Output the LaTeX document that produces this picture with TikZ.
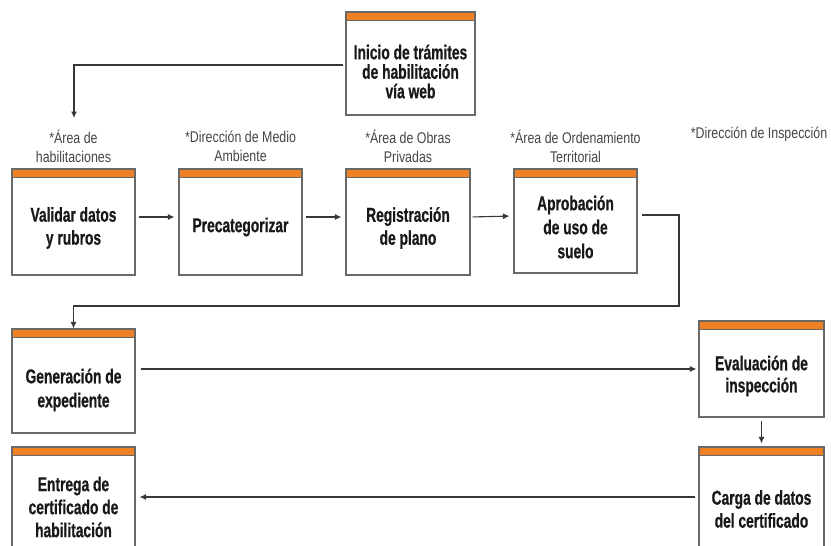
\documentclass[tikz,border=0pt]{standalone}
\usepackage{fontspec}
\usetikzlibrary{arrows.meta,shadows}
\newfontfamily\boxfont[FakeStretch=0.69, BoldFeatures={FakeBold=0.6}]{Liberation Sans}
\newfontfamily\labfont[FakeStretch=0.8]{Liberation Sans}
\definecolor{barorange}{RGB}{240,128,36}
\definecolor{boxline}{RGB}{105,105,105}
\definecolor{labgray}{RGB}{70,70,70}
\definecolor{linegray}{RGB}{55,55,55}
\definecolor{txt}{RGB}{25,25,25}
\tikzset{
  procbox/.style={draw=boxline, line width=1.1pt, fill=white,
    minimum width=123pt, minimum height=104pt, inner sep=0pt,
    drop shadow={shadow xshift=1.2pt, shadow yshift=-1.2pt, fill=black, opacity=0.22},
    path picture={
      \fill[barorange] (path picture bounding box.north west) rectangle ([yshift=-8.5pt]path picture bounding box.north east);
      \draw[boxline, line width=0.9pt] ([yshift=-8.5pt]path picture bounding box.north west) -- ([yshift=-8.5pt]path picture bounding box.north east);
    }},
  boxtext/.style={align=center, text=txt, inner sep=0pt,
    font=\boxfont\bfseries\fontsize{20}{23}\selectfont},
  areatext/.style={align=center, text=labgray, inner sep=0pt,
    font=\labfont\fontsize{15.5}{19}\selectfont},
  flow/.style={draw=linegray, line width=1.1pt, -{Latex[length=6.5pt,width=6pt]}}
}
\begin{document}
\begin{tikzpicture}[x=1pt,y=-1pt]
\useasboundingbox[fill=white] (0,0) rectangle (831,546);

\node[procbox, minimum width=129pt, minimum height=103pt,
  label={[name=tini, boxtext, font=\boxfont\bfseries\fontsize{20}{19.5}\selectfont, yshift=-8pt]center:{Inicio de trámites\\de habilitación\\vía web}}] (ini) at (410.5,63.5) {};

\node[procbox, minimum height=106pt,
  label={[name=tval, boxtext, yshift=-6pt]center:{Validar datos\\y rubros}}] (val) at (73.5,222) {};
\node[procbox, minimum height=106pt,
  label={[name=tpre, boxtext, yshift=-5pt]center:{Precategorizar}}] (pre) at (240.5,222) {};
\node[procbox, minimum width=124pt, minimum height=106pt,
  label={[name=treg, boxtext, yshift=-6pt]center:{Registración\\de plano}}] (reg) at (408,222) {};
\node[procbox,
  label={[name=tapr, boxtext, font=\boxfont\bfseries\fontsize{20}{24}\selectfont, yshift=-6pt]center:{Aprobación\\de uso de\\suelo}}] (apr) at (575.5,221) {};

\node[procbox,
  label={[name=tgen, boxtext, font=\boxfont\bfseries\fontsize{20}{24}\selectfont, yshift=-9pt]center:{Generación de\\expediente}}] (gen) at (73.5,381) {};
\node[procbox, minimum width=125pt, minimum height=96pt,
  label={[name=teva, boxtext, font=\boxfont\bfseries\fontsize{20}{22}\selectfont, yshift=-7pt]center:{Evaluación de\\inspección}}] (eva) at (761.5,369) {};
\node[procbox, minimum width=125pt, minimum height=112pt,
  label={[name=tcar, boxtext, yshift=-6pt]center:{Carga de datos\\del certificado}}] (car) at (761.5,503) {};
\node[procbox, minimum height=112pt,
  label={[name=tent, boxtext, yshift=-4pt]center:{Entrega de\\certificado de\\habilitación}}] (ent) at (73.5,503) {};

\node[areatext] (lval) at (73.5,146) {*Área de\\habilitaciones};
\node[areatext] (lpre) at (240.5,146) {*Dirección de Medio\\Ambiente};
\node[areatext] (lreg) at (408,146) {*Área de Obras\\Privadas};
\node[areatext] (lapr) at (575.5,146) {*Área de Ordenamiento\\Territorial};
\node[areatext] (leva) at (759,134) {*Dirección de Inspección};

\coordinate (a1) at (74,118);
\coordinate (c1) at (679,306);

\draw[flow, shorten <=2pt] ([yshift=-1.5pt]ini.west) -| (a1);
\draw[flow, shorten <=3pt, shorten >=4pt] ([yshift=5pt]val.east) -- ([yshift=5pt]pre.west);
\draw[flow, shorten <=3pt, shorten >=4pt] ([yshift=5pt]pre.east) -- ([yshift=5pt]reg.west);
\draw[flow, shorten <=2pt, shorten >=4pt] ([yshift=5pt]reg.east) -- ([yshift=5pt]apr.west);
\draw[flow, shorten <=4pt] ([yshift=6pt]apr.east) -| (c1) -| (gen.north);
\draw[flow, shorten <=5pt, shorten >=2pt] (gen.east |- eva.west) -- (eva.west);
\draw[flow, shorten <=3pt, shorten >=3pt] (eva.south) -- (car.north);
\draw[flow, shorten <=3pt, shorten >=4pt] ([yshift=6pt]car.west) -- ([yshift=6pt]ent.east);
\end{tikzpicture}
\end{document}
